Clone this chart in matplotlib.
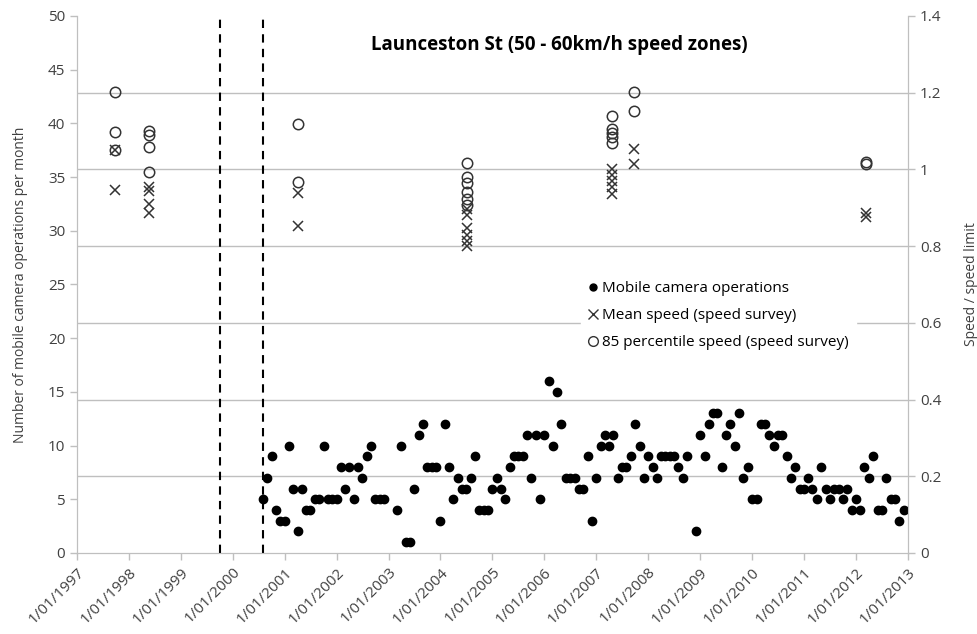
import matplotlib
matplotlib.use('Agg')
import matplotlib.pyplot as plt
from matplotlib.lines import Line2D
import numpy as np
import pandas as pd

plt.rcParams['font.family'] = ['Open Sans', 'DejaVu Sans']

# mobile camera operations per month, starting Aug 2000 (nan = no operations plotted)
camera_start = '2000-08-01'
camera_counts = [
    5, 7, 9, 4, 3, 3, 10, 6, 2, 6, 4, 4,
    5, 5, 10, 5, 5, 5, 8, 6, 8, 5, 8, 7,
    9, 10, 5, 5, 5, np.nan, np.nan, 4, 10, 1, 1, 6,
    11, 12, 8, 8, 8, 3, 12, 8, 5, 7, 6, 6,
    7, 9, 4, 4, 4, 6, 7, 6, 5, 8, 9, 9,
    9, 11, 7, 11, 5, 11, 16, 10, 15, 12, 7, 7,
    7, 6, 6, 9, 3, 7, 10, 11, 10, 11, 7, 8,
    8, 9, 12, 10, 7, 9, 8, 7, 9, 9, 9, 9,
    8, 7, 9, np.nan, 2, 11, 9, 12, 13, 13, 8, 11,
    12, 10, 13, 7, 8, 5, 5, 12, 12, 11, 10, 11,
    11, 9, 7, 8, 6, 6, 7, 6, 5, 8, 6, 5,
    6, 6, 5, 6, 4, 5, 4, 8, 7, 9, 4, 4,
    7, 5, 5, 3, 4,
]

# speed surveys (speed / speed limit)
survey_dates = ['1997-09-25', '1998-05-22', '2001-04-01', '2004-07-08',
                '2007-04-23', '2007-09-24', '2012-03-14']
mean_speed = [
    [1.051, 0.946],
    [0.955, 0.945, 0.910, 0.886],
    [0.938, 0.853],
    [0.898, 0.881, 0.846, 0.829, 0.813, 0.800],
    [1.000, 0.985, 0.971, 0.955, 0.936],
    [1.054, 1.014],
    [0.887, 0.877],
]
p85_speed = [
    [1.202, 1.097, 1.051],
    [1.100, 1.090, 1.058, 0.993],
    [1.118, 0.966],
    [1.016, 0.981, 0.964, 0.942, 0.922, 0.907],
    [1.139, 1.105, 1.094, 1.084, 1.070],
    [1.201, 1.151],
    [1.020, 1.014],
]

# enforcement program markers
event_dates = ['1999-10-01', '2000-08-01']

grey = '#bfbfbf'
text_col = '#404040'

fig = plt.figure(figsize=(9.78, 6.34), dpi=100)
ax = fig.add_axes([0.0787, 0.1278, 0.8497, 0.847])
ax2 = ax.twinx()
ax.set_zorder(ax2.get_zorder() + 1)
ax.patch.set_visible(False)

months = pd.date_range(camera_start, periods=len(camera_counts), freq='MS')
ax.plot(months, camera_counts, 'o', color='black', ms=6, ls='none',
        label='Mobile camera operations')

for d, ms_vals, p_vals in zip(survey_dates, mean_speed, p85_speed):
    t = pd.Timestamp(d)
    ax2.plot([t] * len(p_vals), p_vals, 'o', mfc='none', mec='#333333',
             ms=7.5, mew=1.1, ls='none')
    ax2.plot([t] * len(ms_vals), ms_vals, 'x', color='#333333',
             ms=7.5, mew=1.1, ls='none')

for d in event_dates:
    ax.axvline(pd.Timestamp(d), color='black', ls=(0, (4, 3)), lw=1.5)

ax.set_xlim(pd.Timestamp('1997-01-01'), pd.Timestamp('2013-01-01'))
ax.set_ylim(0, 50)
ax2.set_ylim(0, 1.4)
ax.set_yticks(np.arange(0, 51, 5))
ax2.set_yticks(np.arange(0, 1.41, 0.2))
ax2.set_yticklabels(['0', '0.2', '0.4', '0.6', '0.8', '1', '1.2', '1.4'])

year_ticks = pd.date_range('1997-01-01', '2013-01-01', freq='YS')
ax.set_xticks(year_ticks)
ax.set_xticklabels([f'{t.day}/{t.month:02d}/{t.year}' for t in year_ticks],
                   rotation=45, ha='right', rotation_mode='anchor')

for a in (ax, ax2):
    for s in a.spines.values():
        s.set_color(grey)
    a.spines['top'].set_visible(False)
    a.tick_params(colors=grey, labelcolor=text_col, labelsize=11, length=5,
                  width=1)

for y in np.arange(0.2, 1.21, 0.2):
    ax2.axhline(y, color=grey, lw=1, zorder=0)

ax.set_ylabel('Number of mobile camera operations per month', fontsize=10,
              color=text_col, labelpad=14)
ax2.set_ylabel('Speed / speed limit', fontsize=10, color=text_col, labelpad=16)

ax.text(0.581, 0.946, 'Launceston St (50 - 60km/h speed zones)',
        transform=ax.transAxes, ha='center', va='center', fontsize=13.5,
        fontweight='bold', color='black')

handles = [
    Line2D([], [], marker='o', color='black', ls='none', ms=5),
    Line2D([], [], marker='x', color='#333333', ls='none', ms=7, mew=1),
    Line2D([], [], marker='o', mfc='none', mec='#333333', ls='none', ms=7,
           mew=1),
]
labels = ['Mobile camera operations', 'Mean speed (speed survey)',
          '85 percentile speed (speed survey)']
leg = ax.legend(handles, labels, loc='upper left', bbox_to_anchor=(0.597, 0.535),
                frameon=True, fontsize=11, handlelength=0.6,
                handletextpad=0.3, labelspacing=0.8, borderpad=0.5)
leg.get_frame().set_edgecolor('white')
leg.get_frame().set_facecolor('white')
leg.get_frame().set_alpha(1)
for t in leg.get_texts():
    t.set_color('black')

fig.savefig('out.png', dpi=100)
